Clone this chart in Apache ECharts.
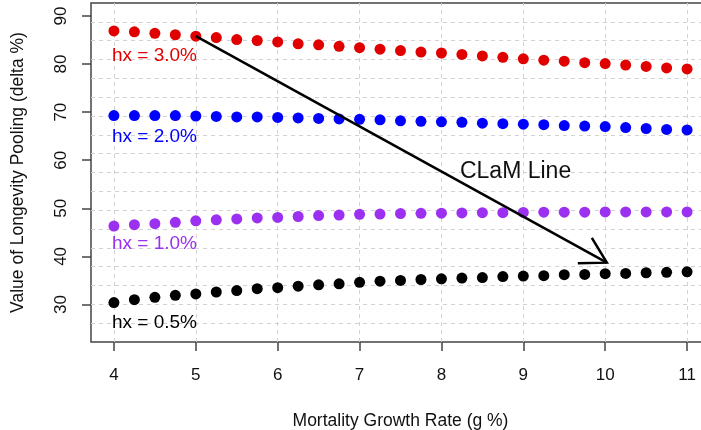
<!DOCTYPE html>
<html>
<head>
<meta charset="utf-8">
<script src="https://cdn.jsdelivr.net/npm/echarts@6/dist/echarts.min.js"></script>
<style>
  html, body { margin: 0; padding: 0; background: #fff; }
  #main { width: 701px; height: 430px; }
</style>
</head>
<body>
<div id="main"></div>
<script>
// mortality growth rate (g %)
var gRate = [4, 4.25, 4.5, 4.75, 5, 5.25, 5.5, 5.75, 6, 6.25, 6.5, 6.75, 7, 7.25, 7.5,
  7.75, 8, 8.25, 8.5, 8.75, 9, 9.25, 9.5, 9.75, 10, 10.25, 10.5, 10.75, 11];
// value of longevity pooling (delta %)
var hx30 = [86.9, 86.7, 86.4, 86.1, 85.8, 85.5, 85.1, 84.9, 84.6, 84.2, 84.0, 83.7, 83.4, 83.1, 82.8,
  82.5, 82.3, 82.0, 81.7, 81.4, 81.1, 80.8, 80.6, 80.3, 80.1, 79.8, 79.5, 79.2, 79.0];
var hx20 = [69.3, 69.3, 69.3, 69.3, 69.2, 69.1, 69.0, 69.0, 68.9, 68.8, 68.7, 68.6, 68.5, 68.4, 68.2,
  68.1, 68.0, 67.9, 67.7, 67.6, 67.5, 67.4, 67.2, 67.1, 67.0, 66.8, 66.6, 66.4, 66.3];
var hx10 = [46.3, 46.6, 46.8, 47.1, 47.4, 47.6, 47.8, 48.0, 48.1, 48.3, 48.5, 48.6, 48.75, 48.8, 48.9,
  48.95, 49.0, 49.05, 49.1, 49.1, 49.15, 49.2, 49.2, 49.2, 49.25, 49.25, 49.25, 49.25, 49.25];
var hx05 = [30.4, 31.0, 31.5, 31.9, 32.2, 32.6, 32.9, 33.3, 33.5, 33.8, 34.1, 34.3, 34.6, 34.85, 35.0,
  35.2, 35.35, 35.5, 35.6, 35.8, 35.9, 36.0, 36.2, 36.25, 36.4, 36.45, 36.6, 36.7, 36.8];

var xTicks = [4, 5, 6, 7, 8, 9, 10, 11];
var yTicks = [30, 40, 50, 60, 70, 80, 90];

// text annotations: [x, y, text]
var annotations = [
  [3.97, 81.7, 'hx = 3.0%'],
  [3.97, 64.8, 'hx = 2.0%'],
  [3.97, 42.7, 'hx = 1.0%'],
  [3.97, 26.2, 'hx = 0.5%'],
  [8.22, 57.7, 'CLaM Line']
];
// arrow [x1, y1, x2, y2]
var clamArrow = [[5, 85.8, 10.02, 38.7]];

var xMin = 3.72, xMax = 11.28;
var yMin = 22.2, yMax = 92.7;

var font = '"Liberation Sans", Arial, Helvetica, sans-serif';
var colors = ['#e00000', '#0000ff', '#9b30f0', '#000000'];

function pairs(ys) {
  return gRate.map(function (g, i) { return [g, ys[i]]; });
}

// dashed background grid: vertical at ticks, horizontal 18 equal cells
var gridLines = [];
xTicks.forEach(function (v) { gridLines.push({ xAxis: v }); });
for (var k = 1; k < 18; k++) {
  gridLines.push({ yAxis: yMin + k * (yMax - yMin) / 18 });
}

var labelColors = [colors[0], colors[1], colors[2], colors[3], '#111'];
var labelSizes = [19, 19, 19, 19, 23];

var myChart = echarts.init(document.getElementById('main'));
myChart.setOption({
  animation: false,
  grid: {
    left: 91, right: -9, top: 3, bottom: 88,
    outerBoundsMode: 'none',
    containLabel: false,
    show: true,
    borderColor: '#444',
    borderWidth: 1.5
  },
  xAxis: {
    type: 'value',
    min: xMin,
    max: xMax,
    axisLine: { show: false },
    axisTick: { show: true, length: 9, customValues: xTicks, lineStyle: { color: '#444', width: 1.5 } },
    axisLabel: { customValues: xTicks, margin: 25, fontSize: 17, color: '#111', fontFamily: font },
    splitLine: { show: false },
    name: 'Mortality Growth Rate (g %)',
    nameLocation: 'middle',
    nameGap: 70,
    nameTextStyle: { fontSize: 17.5, color: '#111', fontFamily: font }
  },
  yAxis: {
    type: 'value',
    min: yMin,
    max: yMax,
    axisLine: { show: false },
    axisTick: { show: true, length: 9, customValues: yTicks, lineStyle: { color: '#444', width: 1.5 } },
    axisLabel: { customValues: yTicks, rotate: 90, margin: 21, fontSize: 17, color: '#111', fontFamily: font },
    splitLine: { show: false },
    name: 'Value of Longevity Pooling (delta %)',
    nameLocation: 'middle',
    nameGap: 64,
    nameTextStyle: { fontSize: 17.5, color: '#111', fontFamily: font }
  },
  series: [
    {
      type: 'scatter',
      data: [],
      z: 0,
      markLine: {
        silent: true,
        symbol: 'none',
        animation: false,
        z: 0,
        label: { show: false },
        lineStyle: { type: [4, 4], color: '#d2d2d2', width: 1 },
        data: gridLines
      }
    },
    { name: 'hx = 3.0%', type: 'scatter', z: 3, symbolSize: 11, itemStyle: { color: colors[0], opacity: 1 }, data: pairs(hx30) },
    { name: 'hx = 2.0%', type: 'scatter', z: 3, symbolSize: 11, itemStyle: { color: colors[1], opacity: 1 }, data: pairs(hx20) },
    { name: 'hx = 1.0%', type: 'scatter', z: 3, symbolSize: 11, itemStyle: { color: colors[2], opacity: 1 }, data: pairs(hx10) },
    { name: 'hx = 0.5%', type: 'scatter', z: 3, symbolSize: 11, itemStyle: { color: colors[3], opacity: 1 }, data: pairs(hx05) },
    {
      type: 'custom',
      z: 5,
      silent: true,
      data: clamArrow,
      renderItem: function (params, api) {
        var a = api.coord([api.value(0), api.value(1)]);
        var b = api.coord([api.value(2), api.value(3)]);
        var ang = Math.atan2(b[1] - a[1], b[0] - a[0]);
        var head = 29, spread = Math.PI / 6;
        var h1 = [b[0] - head * Math.cos(ang - spread), b[1] - head * Math.sin(ang - spread)];
        var h2 = [b[0] - head * Math.cos(ang + spread), b[1] - head * Math.sin(ang + spread)];
        var st = { stroke: '#000', lineWidth: 2.5, fill: null };
        return {
          type: 'group',
          children: [
            { type: 'line', shape: { x1: a[0], y1: a[1], x2: b[0], y2: b[1] }, style: st },
            { type: 'polyline', shape: { points: [h1, b, h2] }, style: st }
          ]
        };
      }
    },
    {
      type: 'scatter',
      z: 6,
      silent: true,
      symbolSize: 1,
      itemStyle: { color: 'rgba(0,0,0,0)', opacity: 1 },
      data: annotations.map(function (d, i) {
        return {
          value: d,
          label: { color: labelColors[i], fontSize: labelSizes[i] }
        };
      }),
      label: {
        show: true,
        position: 'right',
        distance: 0,
        fontFamily: font,
        formatter: function (p) { return p.value[2]; }
      }
    }
  ]
});
</script>
</body>
</html>
